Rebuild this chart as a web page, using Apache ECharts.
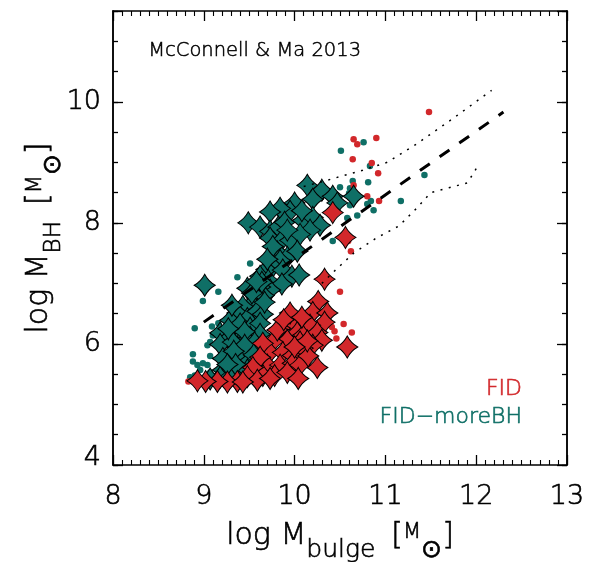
<!DOCTYPE html>
<html>
<head>
<meta charset="utf-8">
<script src="https://cdn.jsdelivr.net/npm/echarts@6/dist/echarts.min.js"></script>
<style>
  html, body { margin: 0; padding: 0; background: #ffffff; }
  #chart { width: 596px; height: 562px; }
</style>
</head>
<body>
<div id="chart"></div>
<script>
// Black-hole mass vs bulge mass for two model runs (FID, FID-moreBH).
const RED = '#d2282b';
const TEAL = '#0f6f66';
const FONT = 'DejaVu Sans';
const WEIGHT = 200;
const STROKE = 0.6;

// Tick labels
const xTickLabels = [8, 9, 10, 11, 12, 13];
const yTickLabels = [4, 6, 8, 10];

// FID: central galaxies (stars) and satellites (dots), [log Mbulge, log MBH]
const fidStars = [
  [10.33, 7.07], [10.42, 8.17], [10.56, 7.76], [10.26, 6.70], [10.20, 6.52], [10.36, 6.51],
  [10.33, 6.36], [10.17, 6.31], [9.97, 6.36], [9.84, 6.26], [10.03, 6.19], [10.09, 6.14],
  [10.25, 6.19], [10.30, 6.06], [10.20, 5.98], [10.06, 6.03], [9.92, 6.06], [9.76, 6.03],
  [9.73, 5.86], [9.87, 5.86], [9.98, 5.81], [10.09, 5.93], [10.58, 5.95], [10.25, 5.61],
  [9.70, 5.65], [9.84, 5.65], [9.98, 5.68], [9.65, 5.48], [9.78, 5.48], [9.92, 5.53],
  [10.06, 5.65], [9.95, 6.51], [10.08, 6.44], [9.81, 6.23], [9.65, 6.01], [9.62, 5.78],
  [9.54, 5.61], [9.48, 5.46], [9.37, 5.38], [9.26, 5.37], [9.15, 5.38], [9.02, 5.38],
  [8.93, 5.39], [9.59, 5.40], [9.43, 5.37], [9.73, 5.43], [10.04, 5.43], [10.15, 5.80],
  [10.14, 6.05], [9.88, 6.40], [10.00, 5.95]
];
const fidDots = [
  [11.48, 9.83], [10.65, 9.38], [10.69, 9.30], [10.90, 9.40], [10.64, 9.05], [10.85, 8.99],
  [10.92, 8.82], [10.65, 8.62], [10.80, 8.44], [10.93, 8.36], [10.59, 7.70], [10.62, 7.53],
  [10.50, 6.86], [10.41, 6.28], [10.44, 6.21], [10.54, 6.33], [10.63, 6.19], [10.46, 6.09],
  [8.83, 5.38]
];

// FID-moreBH
const moreStars = [
  [10.14, 8.62], [10.30, 8.54], [10.42, 8.44], [10.47, 8.33], [10.65, 8.44], [10.20, 8.39],
  [10.00, 8.33], [9.95, 8.19], [9.84, 8.24], [9.73, 8.18], [9.49, 8.00], [9.62, 7.93],
  [9.73, 7.86], [9.82, 7.93], [9.89, 8.01], [10.09, 8.04], [10.20, 8.09], [10.28, 7.96],
  [10.17, 7.88], [9.73, 7.75], [9.85, 7.70], [9.95, 7.71], [10.06, 7.81], [9.81, 7.52],
  [9.92, 7.43], [10.03, 7.53], [9.76, 7.61], [9.84, 7.38], [9.76, 7.28], [9.69, 7.23],
  [9.62, 7.12], [9.71, 7.05], [9.87, 7.22], [9.97, 7.12], [10.05, 7.14], [9.86, 6.99],
  [9.73, 6.89], [9.62, 6.94], [9.48, 6.92], [9.59, 6.77], [9.66, 6.80], [9.01, 6.97],
  [9.53, 6.66], [9.43, 6.62], [9.37, 6.51], [9.48, 6.42], [9.59, 6.54], [9.65, 6.49],
  [9.29, 6.39], [9.40, 6.33], [9.51, 6.26], [9.62, 6.34], [9.18, 6.18], [9.29, 6.11],
  [9.40, 6.09], [9.51, 6.11], [9.62, 6.16], [9.18, 5.99], [9.37, 5.95], [9.48, 5.88],
  [9.59, 5.95], [9.29, 5.78], [9.40, 5.78], [9.51, 5.73], [9.21, 5.57], [9.37, 5.55],
  [9.48, 5.57], [9.18, 5.45], [9.29, 5.46], [9.07, 5.42], [9.31, 6.64], [9.32, 6.03],
  [9.21, 5.76], [9.64, 7.02], [9.67, 6.69], [9.53, 6.84], [9.45, 6.20], [9.27, 6.25],
  [9.56, 6.02], [9.45, 5.98], [9.33, 5.88], [9.55, 5.82], [9.35, 5.66], [9.58, 5.66],
  [9.26, 5.66], [9.92, 7.88], [10.08, 8.20], [9.70, 7.40], [9.58, 7.03]
];
const moreDots = [
  [10.76, 9.33], [10.51, 9.19], [10.83, 8.94], [10.64, 8.69], [10.81, 8.67], [10.50, 8.59],
  [10.61, 8.57], [10.60, 8.49], [11.43, 8.79], [11.17, 8.36], [10.84, 8.36], [10.80, 8.31],
  [10.87, 8.21], [10.61, 8.29], [10.58, 8.08], [10.69, 8.12], [10.42, 7.70], [9.37, 7.10],
  [9.51, 7.33], [9.16, 6.86], [8.99, 6.71], [8.90, 6.26], [9.09, 6.29], [9.16, 6.34],
  [9.16, 6.19], [9.07, 6.03], [9.04, 5.98], [8.88, 5.83], [8.88, 5.71], [9.07, 5.80],
  [8.93, 5.65], [9.04, 5.65], [8.96, 5.57], [8.90, 5.48], [9.07, 5.53], [8.85, 5.45],
  [9.10, 6.14], [8.99, 5.68]
];

// McConnell & Ma (2013) relation and its scatter envelope
const fitX = [9.0, 12.3];
const fitY = [6.36, 9.83];
const upperX = [10.10, 10.35, 10.75, 11.02, 11.35, 11.75, 12.17];
const upperY = [8.60, 8.70, 8.87, 9.00, 9.31, 9.73, 10.19];
const lowerX = [10.30, 10.45, 10.65, 10.90, 11.15, 11.35, 11.50, 11.70, 11.90, 11.97, 12.02];
const lowerY = [7.00, 7.22, 7.50, 7.75, 7.95, 8.25, 8.50, 8.58, 8.66, 8.82, 8.95];

const zip = (xs, ys) => xs.map((x, i) => [x, ys[i]]);

// Four-pointed star with concave sides
const STAR = 'path://M10,0 Q13.5,6.5 20,10 Q13.5,13.5 10,20 Q6.5,13.5 0,10 Q6.5,6.5 10,0 Z';
const STAR_SIZE = [21, 22];

const axisLine = { show: true, onZero: false, lineStyle: { color: '#000', width: 1.5 } };
const ink = (color) => ({ color: color, textBorderColor: color, textBorderWidth: STROKE });

function xAxisDef(pos, labels) {
  return {
    type: 'value', position: pos, min: 8, max: 13, interval: 1,
    axisLine: axisLine,
    axisTick: { show: true, inside: true, length: 10, lineStyle: { color: '#000', width: 1.3 } },
    minorTick: { show: true, splitNumber: 10, length: 5, lineStyle: { color: '#000', width: 1.1 } },
    splitLine: { show: false }, minorSplitLine: { show: false },
    axisLabel: Object.assign({
      show: labels, fontFamily: FONT, fontWeight: WEIGHT, fontSize: 27, margin: 18,
      formatter: v => (xTickLabels.includes(v) ? String(v) : '')
    }, ink('#000'))
  };
}

function yAxisDef(pos, interval, len, labels) {
  return {
    type: 'value', position: pos, min: 4, max: 11.5, interval: interval,
    axisLine: axisLine,
    axisTick: { show: true, inside: true, length: len, lineStyle: { color: '#000', width: 1.3 } },
    splitLine: { show: false },
    axisLabel: Object.assign({
      show: labels, fontFamily: FONT, fontWeight: WEIGHT, fontSize: 27, margin: 12,
      formatter: v => (yTickLabels.includes(v) ? (v === 4 ? '{lo|4}' : String(v)) : ''),
      rich: { lo: Object.assign({ fontFamily: FONT, fontWeight: WEIGHT, fontSize: 27, padding: [0, 0, 14, 0] }, ink('#000')) }
    }, ink('#000'))
  };
}

// Axis-title pieces: main text, subscript, bracketed unit with solar symbol
function titleRich(subSize, subLineHeight) {
  const t = (o) => Object.assign({ fontFamily: FONT, fontWeight: WEIGHT }, ink('#000'), o);
  return {
    a: t({ fontSize: 30, lineHeight: 54 }),
    s: t({ fontSize: subSize, lineHeight: subLineHeight, verticalAlign: 'bottom' }),
    b: t({ fontSize: 30, lineHeight: 54, padding: [0, 0, 0, 16] }),
    m: t({ fontSize: 21, lineHeight: 33, verticalAlign: 'top', padding: [13, 0, 0, 0] }),
    o: t({ fontSize: 25, lineHeight: 14, verticalAlign: 'bottom' }),
    c: t({ fontSize: 30, lineHeight: 54 })
  };
}

const xMain = xAxisDef('bottom', true);
xMain.name = '{a|log M}{s|bulge}{b|[}{m|M}{o|⊙}{c|]}';
xMain.nameLocation = 'middle';
xMain.nameGap = 44;
xMain.nameMoveOverlap = false;
xMain.nameTextStyle = { rich: titleRich(25, 48) };

const yMain = yAxisDef('left', 2, 10, true);
yMain.name = '{a|log M}{s|BH}{b|[}{m|M}{o|⊙}{c|]}';
yMain.nameLocation = 'middle';
yMain.nameRotate = 90;
yMain.nameGap = 47;
yMain.nameMoveOverlap = false;
yMain.nameTextStyle = { rich: titleRich(23, 23) };

const textFont = (size) => WEIGHT + ' ' + size + 'px "DejaVu Sans"';

const chart = echarts.init(document.getElementById('chart'), null, { renderer: 'canvas' });

chart.setOption({
  animation: false,
  backgroundColor: '#ffffff',
  grid: { left: 113, right: 29, top: 11, bottom: 97, containLabel: false, outerBoundsMode: 'none' },
  xAxis: [xMain, xAxisDef('top', false)],
  yAxis: [
    yMain,
    yAxisDef('left', 0.5, 5, false),
    yAxisDef('right', 2, 10, false),
    yAxisDef('right', 0.5, 5, false)
  ],
  series: [
    {
      name: 'FID-moreBH sat', type: 'scatter', data: moreDots, symbol: 'circle', symbolSize: 6.5,
      itemStyle: { color: TEAL, opacity: 1 }
    },
    {
      name: 'FID sat', type: 'scatter', data: fidDots, symbol: 'circle', symbolSize: 6.5,
      itemStyle: { color: RED, opacity: 1 }
    },
    {
      name: 'FID-moreBH', type: 'scatter', data: moreStars, symbol: STAR, symbolSize: STAR_SIZE,
      itemStyle: { color: TEAL, borderColor: '#000', borderWidth: 1, opacity: 1 }
    },
    {
      name: 'FID', type: 'scatter', data: fidStars, symbol: STAR, symbolSize: STAR_SIZE,
      itemStyle: { color: RED, borderColor: '#000', borderWidth: 1, opacity: 1 }
    },
    {
      name: 'MM13 fit', type: 'line', data: zip(fitX, fitY), showSymbol: false, symbol: 'none', z: 5,
      lineStyle: { color: '#000', width: 3, type: [12, 12] }
    },
    {
      name: 'MM13 upper', type: 'line', data: zip(upperX, upperY), showSymbol: false, symbol: 'none', z: 5,
      lineStyle: { color: '#000', width: 1.5, type: [2, 6.5] }
    },
    {
      name: 'MM13 lower', type: 'line', data: zip(lowerX, lowerY), showSymbol: false, symbol: 'none', z: 5,
      lineStyle: { color: '#000', width: 1.5, type: [2, 6.5] }
    }
  ],
  graphic: [
    {
      type: 'text', left: 148, top: 41,
      style: { text: 'McConnell & Ma 2013', fill: '#000', stroke: '#000', lineWidth: 0.5, font: textFont(19.5) }
    },
    {
      type: 'text', x: 522, y: 389,
      style: { text: 'FID', fill: RED, stroke: RED, lineWidth: STROKE, font: textFont(22), align: 'right', textAlign: 'right', verticalAlign: 'middle', textVerticalAlign: 'middle' }
    },
    {
      type: 'text', x: 522, y: 417,
      style: { text: 'FID\u2212moreBH', fill: TEAL, stroke: TEAL, lineWidth: STROKE, font: textFont(22), align: 'right', textAlign: 'right', verticalAlign: 'middle', textVerticalAlign: 'middle' }
    }
  ]
});
</script>
</body>
</html>
